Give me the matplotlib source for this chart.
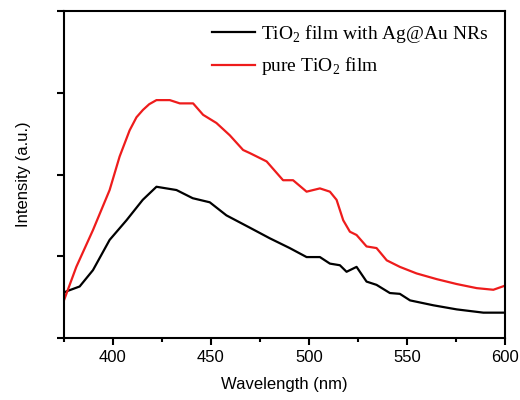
import matplotlib
matplotlib.use('Agg')
import matplotlib.pyplot as plt
from matplotlib.ticker import MultipleLocator

# wavelength (nm) / intensity (a.u.)
wl_ag = [375, 376.2, 383, 389.8, 398.3, 406.9, 415.2, 422.2, 432.4, 440.7, 449.4,
         457.9, 469.8, 480, 490.2, 498.8, 505.6, 510.7, 515.8, 519.2, 524.3,
         529.4, 534.5, 541.3, 546.4, 551.6, 563.5, 575.4, 589, 600]
int_ag = [0.55, 0.57, 0.63, 0.83, 1.20, 1.44, 1.69, 1.85, 1.81, 1.71, 1.66,
          1.50, 1.35, 1.22, 1.10, 0.99, 0.99, 0.91, 0.89, 0.81, 0.87,
          0.69, 0.65, 0.55, 0.54, 0.46, 0.40, 0.35, 0.31, 0.31]

wl_pure = [375, 381.3, 389.8, 398.3, 403.4, 408.5, 412, 415.3, 418.5, 422.2, 429, 434.1, 440.9,
           446, 452.8, 459.6, 466.4, 470, 478.4, 486.8, 491.9, 498.8, 505.6,
           510.7, 514.1, 517.5, 520.9, 524.3, 529.4, 534.5, 539.7, 546.4, 554.9,
           565.2, 575.4, 585.6, 594.1, 600]
int_pure = [0.46, 0.87, 1.32, 1.81, 2.22, 2.54, 2.70, 2.79, 2.86, 2.91, 2.91, 2.87, 2.87,
            2.73, 2.63, 2.48, 2.30, 2.26, 2.16, 1.93, 1.93, 1.79, 1.83,
            1.79, 1.69, 1.44, 1.30, 1.26, 1.12, 1.10, 0.95, 0.87, 0.79,
            0.72, 0.66, 0.61, 0.59, 0.64]

labels = ['TiO$_\\mathrm{2}$ film with Ag@Au NRs', 'pure TiO$_\\mathrm{2}$ film']

plt.rcParams['font.family'] = 'Liberation Sans'
plt.rcParams['mathtext.fontset'] = 'custom'
plt.rcParams['mathtext.rm'] = 'Liberation Serif'

fig = plt.figure(figsize=(5.2, 4), dpi=100)
ax = fig.add_axes([0.123, 0.155, 0.848, 0.8175])

ax.plot(wl_ag, int_ag, color='black', lw=1.6, label=labels[0])
ax.plot(wl_pure, int_pure, color='#ee1c1c', lw=1.6, label=labels[1])

ax.set_xlim(375, 600)
ax.set_ylim(0, 4)
ax.xaxis.set_major_locator(MultipleLocator(50))
ax.xaxis.set_minor_locator(MultipleLocator(25))
ax.yaxis.set_major_locator(MultipleLocator(1))
ax.set_yticklabels([])
ax.tick_params(axis='both', which='major', direction='out', length=5, width=1.5, labelsize=12)
ax.tick_params(axis='x', which='minor', direction='out', length=3, width=1.5)
for s in ax.spines.values():
    s.set_linewidth(1.5)

ax.set_xlabel('Wavelength (nm)', fontsize=12, labelpad=9)
ax.set_ylabel('Intensity (a.u.)', fontsize=12, labelpad=15)

leg = ax.legend(loc='upper right', bbox_to_anchor=(0.99, 1.0), frameon=False,
                prop={'family': 'Liberation Serif', 'size': 14},
                handlelength=2.2, handletextpad=0.35, labelspacing=0.55, borderaxespad=0.2)

fig.savefig('out.png', dpi=100)
